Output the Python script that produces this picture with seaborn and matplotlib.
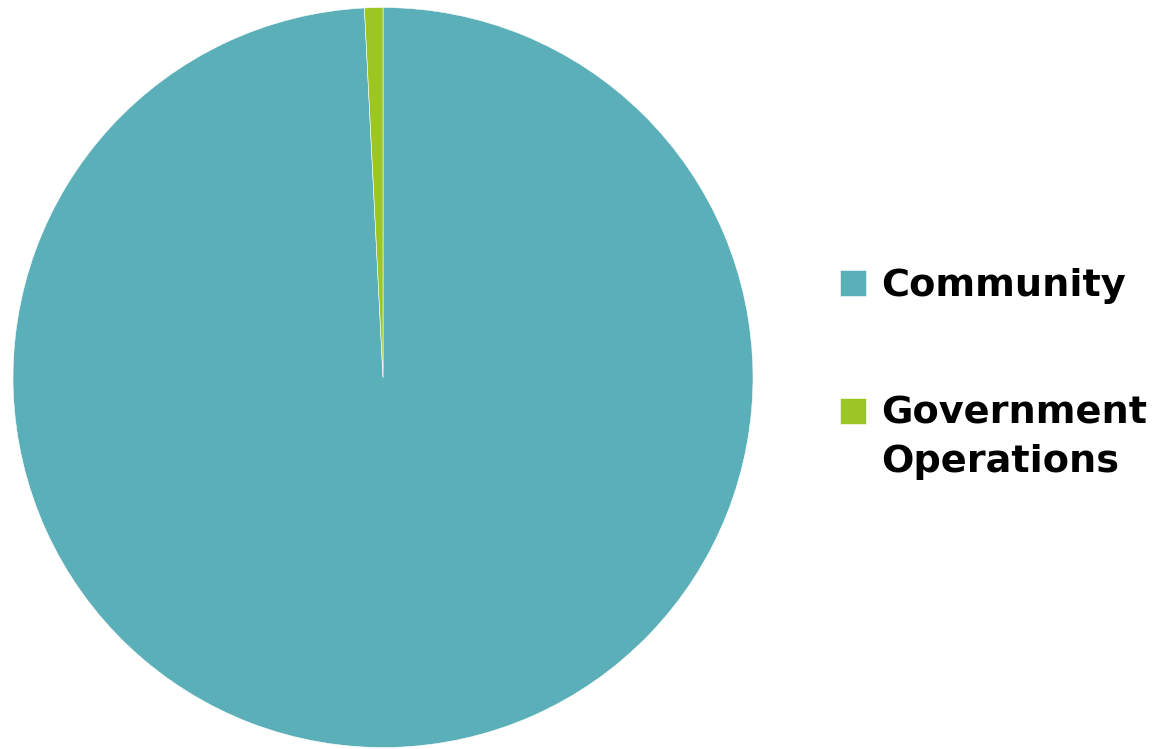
import matplotlib
matplotlib.use("Agg")
import matplotlib.pyplot as plt
import seaborn as sns
from matplotlib.patches import Rectangle
from matplotlib.legend_handler import HandlerPatch

# data
categories = ["Community", "Government\nOperations"]
shares = [99.2, 0.8]
colors = ["#5BAFB8", "#9BC624"]

sns.set_theme(style="white")
plt.rcParams['font.family'] = ['DejaVu Sans']

fig = plt.figure(figsize=(11.64, 7.49), dpi=100)
# axes placed so the pie fills the left part of the canvas
ax = fig.add_axes([13 / 1164, 1 / 749, 740 / 1164, 741 / 749])

wedges, _ = ax.pie(shares, colors=sns.color_palette(colors), startangle=90,
                   counterclock=False,
                   wedgeprops=dict(edgecolor="white", linewidth=0.4))
ax.set_xlim(-1, 1)
ax.set_ylim(-1, 1)
ax.set_aspect("equal")
ax.axis("off")

line_gap = 1.45


def square_first_line(legend, orig_handle, xdescent, ydescent, width, height, fontsize):
    # put the marker next to the first text line of a two-line label
    shift = 0.5 * line_gap * fontsize if orig_handle is wedges[1] else 0
    return Rectangle((-xdescent, -ydescent + shift), width, height)


leg = fig.legend(wedges, categories, loc="upper left",
                 bbox_to_anchor=(840 / 1164, 0.642), frameon=False,
                 prop=dict(weight="bold", size=27.5), labelcolor="black",
                 handlelength=0.68, handleheight=0.68, handletextpad=0.4,
                 labelspacing=2.4, borderpad=0, borderaxespad=0,
                 handler_map={w: HandlerPatch(patch_func=square_first_line) for w in wedges})
for t in leg.get_texts():
    t.set_linespacing(line_gap)

fig.savefig("out.png", dpi=100)
